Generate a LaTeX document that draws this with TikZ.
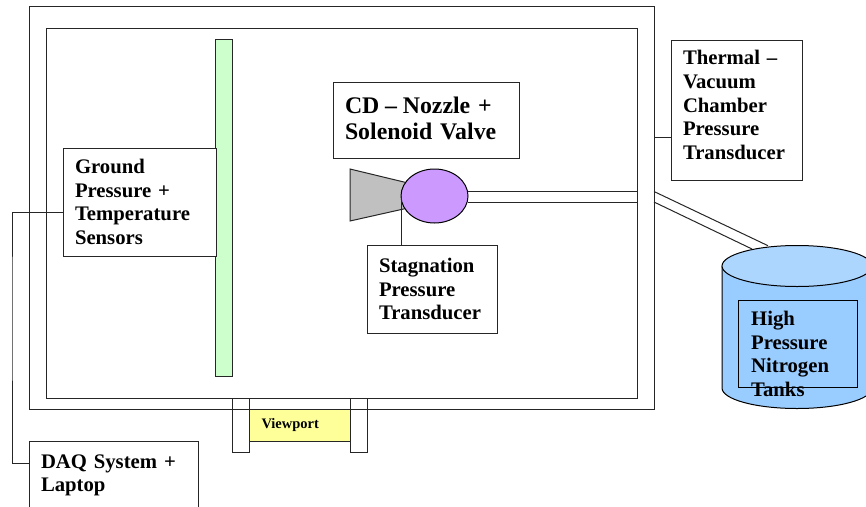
\documentclass[tikz,border=0pt]{standalone}
\usepackage{fontspec}
\setmainfont{Liberation Serif}
\usetikzlibrary{shapes.geometric,calc}
\definecolor{screen}{HTML}{CCFFCC}
\definecolor{valve}{HTML}{CC99FF}
\definecolor{nozzle}{HTML}{C0C0C0}
\definecolor{window}{HTML}{FFFF99}
\definecolor{tank}{HTML}{99CCFF}
\definecolor{tanktop}{HTML}{ADD6FF}
\tikzset{
  wall/.style={draw=black!85, line width=1pt, anchor=north west, inner sep=0pt, outer sep=0pt},
  infobox/.style 2 args={wall, align=left, inner xsep=12pt, text width=#1pt-24pt,
    minimum height=#2pt, font=\fontsize{20.7}{23.6}\selectfont\bfseries},
  wire/.style={draw=black!85, line width=1pt},
  pipe/.style={draw=black!85, line width=1pt}
}
\begin{document}
\begin{tikzpicture}[x=1pt,y=-1pt]
  \useasboundingbox (0,0) rectangle (866,506);
  \node[wall, minimum width=625pt, minimum height=403pt] (chamber) at (29,6) {};
  \node[wall, minimum width=591pt, minimum height=370pt] (shroud) at (46,28) {};
  \node[wall, fill=screen, minimum width=17pt, minimum height=337pt] (plate) at (215,39) {};
  \node[infobox={153}{108}, fill=white] (ground) at (63,148) {Ground\\Pressure +\\Temperature\\Sensors};
  \node[infobox={186}{76}, font=\fontsize{23.8}{25.8}\selectfont\bfseries] (cdbox) at (333,82) {CD\hspace{5.8pt}--\hspace{5.8pt}Nozzle +\\Solenoid Valve\\[-23pt]\mbox{}};
  \node[infobox={131}{140}] (thermal) at (671,40) {Thermal --\\Vacuum\\Chamber\\Pressure\\Transducer\\[-13.6pt]\mbox{}};
  \node[infobox={130}{88}] (stag) at (367,245) {Stagnation\\Pressure\\Transducer};
  \node[infobox={169}{88}] (daq) at (29,441) {DAQ System +\\Laptop\\\mbox{}};

  \draw[wire, fill=nozzle] (350,169) -- (408,183) -- (408,208) -- (350,221) -- cycle;
  \node[draw=black, line width=1pt, ellipse, fill=valve, minimum width=67pt, minimum height=54pt,
        inner sep=0pt, outer sep=0pt] (solenoid) at (434.5,196) {};
  \draw[wire] (solenoid.west) -- (solenoid.west |- stag.north);

  \coordinate (pipetop) at (637,191);
  \coordinate (pipelow) at (637,202);
  \coordinate (branchtop) at (654,191.5);
  \coordinate (branchlow) at (654,202);
  \coordinate (tanktopin) at (768,245.7);
  \coordinate (tanklowin) at (752,249);
  \draw[pipe] (pipetop -| solenoid.east) -- (pipetop);
  \draw[pipe] (pipelow -| solenoid.east) -- (pipelow);
  \draw[pipe] (branchtop) -- (tanktopin);
  \draw[pipe] (branchlow) -- (tanklowin);

  \coordinate (thermaltap) at (671,137);
  \draw[wire] (thermaltap -| chamber.east) -- (thermaltap);
  \coordinate (groundtap) at (63,212.5);
  \coordinate (daqtap) at (29,463.5);
  \coordinate (busline) at (12,300);
  \draw[wire] (groundtap) -| (busline) |- (daqtap);

  \node[wall, minimum width=17pt, minimum height=54pt] (portleft) at (232,398) {};
  \node[wall, minimum width=17pt, minimum height=54pt] (portright) at (350,398) {};
  \node[wall, fill=window, minimum width=101pt, minimum height=32pt, inner xsep=12.5pt, text width=76pt,
        align=left, font=\fontsize{14.5}{16}\selectfont\bfseries] (viewport) at (249,409) {Viewport};

  \draw[wire, draw=black, fill=tank] (722,266) -- (722,388) arc[start angle=180, end angle=0, x radius=75, y radius=20.5]
    -- (872,266) -- cycle;
  \draw[wire, draw=black, fill=tanktop] (797,266) ellipse[x radius=75, y radius=20.5];
  \node[wall, draw=black, minimum width=119pt, minimum height=87pt] (tankbox) at (738,300) {};
  \node[anchor=north west, inner sep=0pt, align=left, font=\fontsize{20.7}{23.6}\selectfont\bfseries] (tanklabel)
    at (751,311) {High\\Pressure\\Nitrogen\\Tanks};
\end{tikzpicture}
\end{document}
